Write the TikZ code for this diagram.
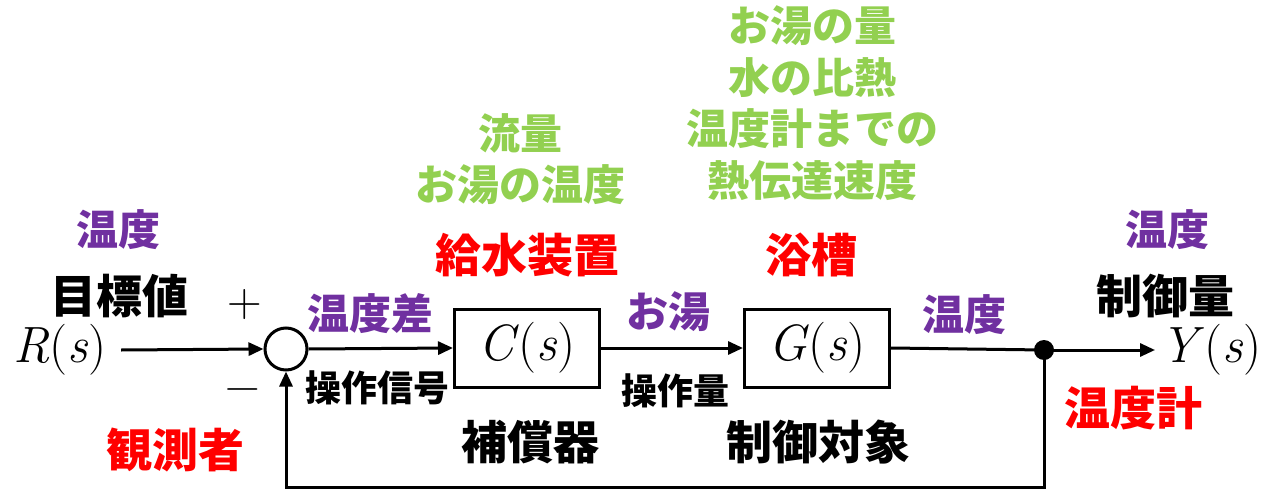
\documentclass[tikz,border=0pt]{standalone}
\usepackage{fontspec}
\newfontfamily\jp{Noto Sans CJK JP}
\usetikzlibrary{arrows.meta}
\definecolor{cpurple}{HTML}{7030A0}
\definecolor{cred}{HTML}{FF0000}
\definecolor{cgreen}{HTML}{92D050}
\newcommand{\tf}[1]{\textit{#1}(\textit{s})}
\begin{document}
\begin{tikzpicture}[x=1pt,y=-1pt,line width=3pt,
  >={Triangle[length=15pt,width=13pt]},
  lab/.style={inner sep=0pt,font=\jp\bfseries\fontsize{42}{51.5}\selectfont,align=center},
  biglab/.style={inner sep=0pt,font=\jp\bfseries\fontsize{46}{52}\selectfont},
  smalllab/.style={inner sep=0pt,font=\jp\bfseries\fontsize{36}{42}\selectfont},
  mathlab/.style={font=\fontsize{51}{56}\selectfont},
  block/.style={draw,line width=3pt,minimum width=145pt,minimum height=78pt,inner sep=0pt,mathlab},
  sumnode/.style={circle,draw,line width=3pt,minimum size=42pt,inner sep=0pt},
  dotnode/.style={circle,fill,minimum size=20pt,inner sep=0pt}]
\useasboundingbox (0,0) rectangle (1265,492);
% blocks
\node[block] (C) at (527,348) {\tf{C}};
\node[block] (G) at (817,348) {\tf{G}};
\node[sumnode] (sum) at (286,349) {};
\node[dotnode] (dot) at (1044,350) {};
\node[mathlab,inner ysep=0pt,inner xsep=13pt] (R) at (60,350) {\tf{R}};
\node[mathlab,inner ysep=0pt,inner xsep=4pt] (Y) at (1211,350) {\tf{Y}};
% connectors
\draw[->] (R.east) -- (sum.west);
\draw[->] (sum.east) -- (C.west);
\draw[->] (C.east) -- (G.west);
\draw (G.east) -- (dot.center);
\draw[->] (dot.center) -- (Y.west);
\draw[->] (dot.center) -- ++(0,137) -| (sum.south);
% signs
\node[inner sep=0pt,font=\fontsize{48}{52}\selectfont] (plus) at (245,305) {+};
\node[inner sep=0pt,font=\fontsize{48}{52}\selectfont] (minus) at (243,395) {−};
% labels
\node[lab,text=cpurple] (t1) at (118,230) {温度};
\node[biglab] (goal) at (119,296) {目標値};
\node[lab,text=cpurple] (t2) at (370,314) {温度差};
\node[smalllab] (sig) at (377,388) {操作信号};
\node[biglab,text=cred] (obs) at (175,450) {観測者};
\node[biglab,text=cred] (sup) at (527,255) {給水装置};
\node[biglab,text=cred] (bath) at (811,255) {浴槽};
\node[lab,text=cpurple] (hot) at (668,312) {お湯};
\node[smalllab] (mv) at (675,391) {操作量};
\node[biglab] (comp) at (530,442) {補償器};
\node[biglab] (plant) at (818,442) {制御対象};
\node[lab,text=cpurple] (t3) at (964,315) {温度};
\node[lab,text=cpurple] (t4) at (1167,230) {温度};
\node[biglab] (cv) at (1165,296) {制御量};
\node[biglab,text=cred] (meter) at (1133,408) {温度計};
\node[lab,text=cgreen] (g1) at (520,159) {流量\\お湯の温度};
\node[lab,text=cgreen] (g2) at (812,103) {お湯の量\\水の比熱\\温度計までの\\熱伝達速度};
\end{tikzpicture}
\end{document}
